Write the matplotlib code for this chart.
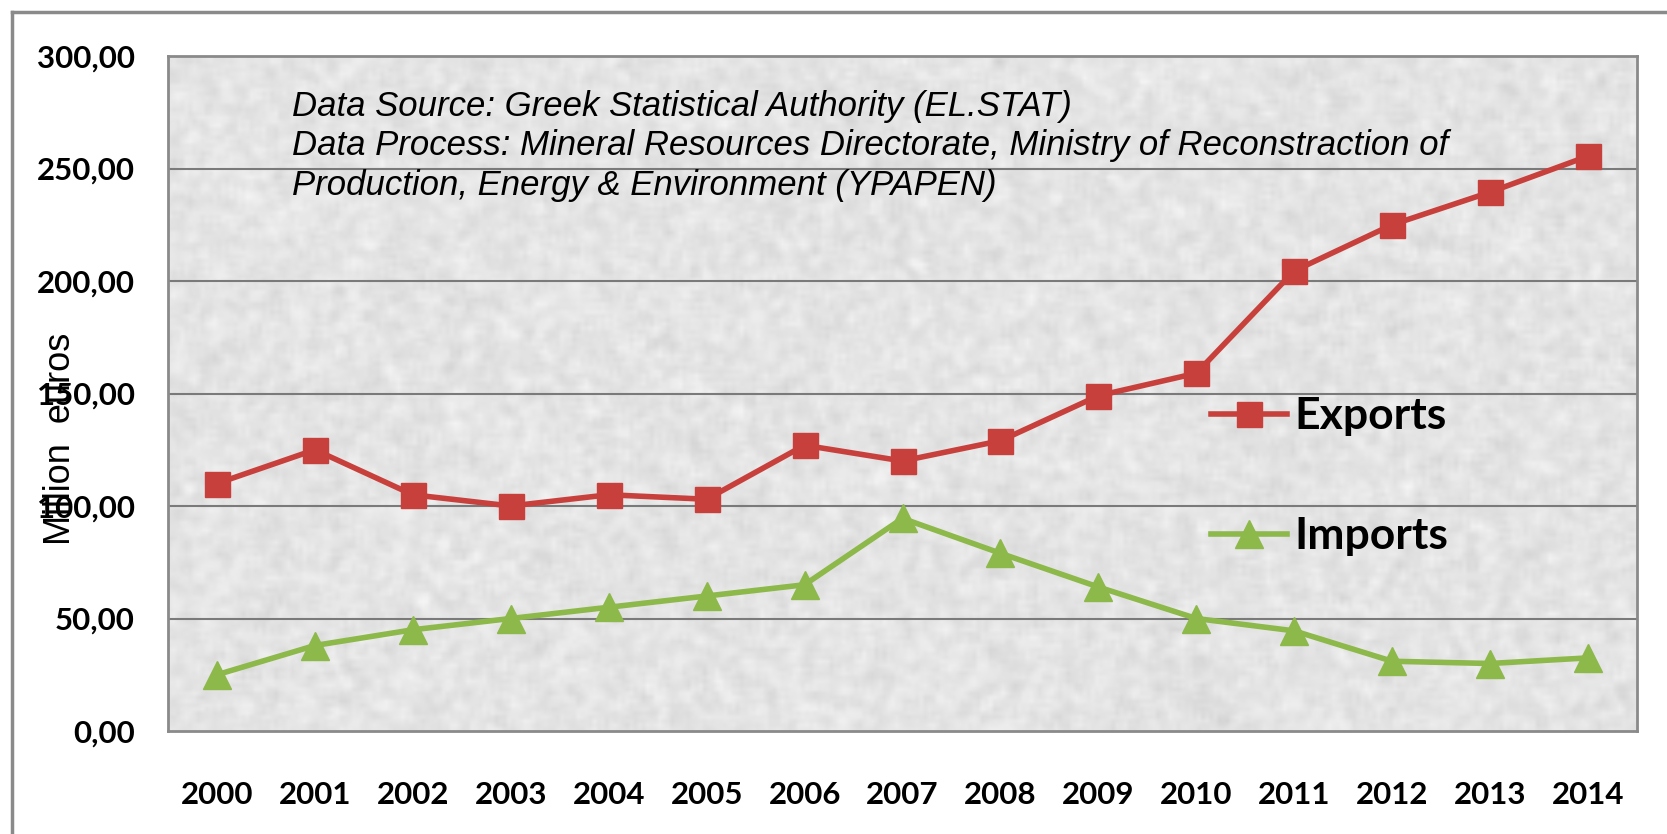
import numpy as np
from matplotlib import pyplot as plt

years = ['2000', '2001', '2002', '2003', '2004', '2005', '2006', '2007',
         '2008', '2009', '2010', '2011', '2012', '2013', '2014']
exports = [110, 125, 105, 100, 105, 103, 127, 120, 129, 149, 159, 204.5, 225, 239.5, 255.5]
imports = [25, 38, 45, 50, 55, 60, 65, 94.5, 79, 64, 50, 44.5, 31, 30, 32.5]
yticks = [0, 50, 100, 150, 200, 250, 300]
ytick_labels = ['0,00', '50,00', '100,00', '150,00', '200,00', '250,00', '300,00']

note = ('Data Source: Greek Statistical Authority (EL.STAT)\n'
        'Data Process: Mineral Resources Directorate, Ministry of Reconstraction of\n'
        'Production, Energy & Environment (YPAPEN)')

red = '#C8403C'
green = '#8DB84A'

fig = plt.figure(figsize=(16.67, 8.34), dpi=100)
fig.patch.set_facecolor('white')

# outer frame (only top and left visible in the cropped reference)
fig.add_artist(plt.Line2D([12/1667, 1], [1 - 12/834, 1 - 12/834],
                          transform=fig.transFigure, color='#8a8a8a', lw=2.5))
fig.add_artist(plt.Line2D([12/1667, 12/1667], [0, 1 - 12/834],
                          transform=fig.transFigure, color='#8a8a8a', lw=2.5))

ax = fig.add_axes([168/1667, 1 - 731/834, (1637 - 168)/1667, (731 - 56)/834])

# light speckled grey texture behind the plot
rng = np.random.default_rng(3)
tex = rng.normal(0, 1, (170, 360))
k = np.ones(3) / 3
tex = np.apply_along_axis(lambda r: np.convolve(r, k, mode='same'), 1, tex)
tex = np.apply_along_axis(lambda c: np.convolve(c, k, mode='same'), 0, tex)
gray = np.clip(0.895 + 0.05 * tex, 0.72, 1.0)
ax.imshow(np.dstack([gray, gray, gray]), extent=[-0.5, 14.5, 0, 300],
          aspect='auto', zorder=0, interpolation='bilinear')

x = np.arange(len(years))
ax.set_xlim(-0.5, 14.5)
ax.set_ylim(0, 300)

for yv in yticks[1:-1]:
    ax.axhline(yv, color='#7a7a7a', lw=1.5, zorder=1)

ax.plot(x, exports, color=red, lw=4, marker='s', markersize=18, zorder=3, label='Exports')
ax.plot(x, imports, color=green, lw=4, marker='^', markersize=20, zorder=3, label='Imports')

for s in ax.spines.values():
    s.set_color('#8a8a8a')
    s.set_linewidth(2)

ax.set_yticks(yticks)
ax.set_yticklabels(ytick_labels)
ax.set_xticks(x)
ax.set_xticklabels(years)
ax.tick_params(length=0)
ax.tick_params(axis='y', pad=24)
ax.tick_params(axis='x', pad=36)
for lbl in ax.get_xticklabels() + ax.get_yticklabels():
    lbl.set_family('Lato')
    lbl.set_fontweight('bold')
    lbl.set_fontsize(22.5)

fig.text(60/1667, 1 - 439/834, 'Million  euros', rotation=90, ha='center', va='center',
         fontsize=26, family='Liberation Sans')

fig.text(292/1667, 1 - 90/834, note, ha='left', va='top', fontsize=25,
         style='italic', family='Liberation Sans', linespacing=1.25)

leg = ax.legend(loc='upper left', bbox_to_anchor=(1189/1667, 1 - 374/834),
                bbox_transform=fig.transFigure, frameon=False, borderpad=0,
                handlelength=1.7, handletextpad=0.17, labelspacing=1.8,
                prop={'family': 'Lato', 'weight': 'bold', 'size': 32})

fig.savefig('out.png', dpi=100)
